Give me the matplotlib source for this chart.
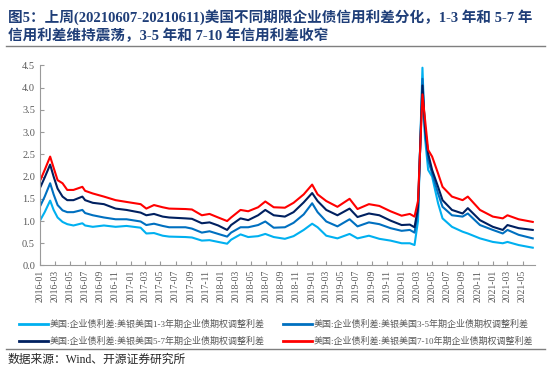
import pandas as pd
import matplotlib
matplotlib.use("Agg")
import matplotlib.pyplot as plt
import matplotlib.dates as mdates
from matplotlib.lines import Line2D

plt.rcParams['font.family'] = ['Liberation Serif', 'Noto Sans CJK SC', 'DejaVu Sans']

dates = ["2016-01-04", "2016-01-20", "2016-02-11", "2016-02-25", "2016-03-12",
         "2016-04-01", "2016-04-20", "2016-05-15", "2016-06-20", "2016-07-01",
         "2016-08-01", "2016-09-15", "2016-11-01", "2016-12-15", "2017-02-10",
         "2017-03-05", "2017-04-05", "2017-05-10", "2017-06-05", "2017-08-10",
         "2017-09-05", "2017-10-15", "2017-11-15", "2017-12-20", "2018-01-25",
         "2018-02-10", "2018-03-20", "2018-04-20", "2018-05-30", "2018-06-28",
         "2018-08-01", "2018-09-15", "2018-10-20", "2018-11-30", "2019-01-03",
         "2019-01-25", "2019-03-01", "2019-04-15", "2019-06-03", "2019-07-05",
         "2019-08-20", "2019-10-01", "2019-11-15", "2019-12-30", "2020-02-01",
         "2020-02-20", "2020-03-05", "2020-03-23", "2020-04-02", "2020-04-15",
         "2020-05-01", "2020-05-25", "2020-06-12", "2020-07-20", "2020-09-01",
         "2020-09-22", "2020-11-10", "2021-01-01", "2021-02-10", "2021-03-01",
         "2021-04-15", "2021-06-11"]

oas_1_3 = [1.04, 1.20, 1.46, 1.25, 1.08, 0.98, 0.93, 0.90, 0.95, 0.90,
           0.87, 0.90, 0.87, 0.89, 0.85, 0.72, 0.73, 0.67, 0.65, 0.64,
           0.63, 0.56, 0.57, 0.53, 0.49, 0.58, 0.70, 0.64, 0.66, 0.71,
           0.64, 0.60, 0.66, 0.80, 0.94, 0.86, 0.67, 0.61, 0.71, 0.61,
           0.67, 0.60, 0.56, 0.50, 0.50, 0.46, 1.00, 4.45, 2.89, 2.15,
           2.00, 1.40, 1.06, 0.87, 0.76, 0.72, 0.61, 0.53, 0.50, 0.53,
           0.46, 0.40]

oas_3_5 = [1.36, 1.55, 1.85, 1.60, 1.36, 1.24, 1.20, 1.20, 1.25, 1.18,
           1.13, 1.08, 1.04, 1.04, 0.99, 0.91, 0.94, 0.89, 0.86, 0.86,
           0.83, 0.74, 0.77, 0.71, 0.65, 0.74, 0.86, 0.86, 0.91, 0.99,
           0.85, 0.86, 0.96, 1.15, 1.40, 1.20, 0.99, 0.88, 1.04, 0.88,
           0.97, 0.93, 0.84, 0.78, 0.80, 0.74, 1.20, 4.20, 3.01, 2.37,
           2.07, 1.62, 1.32, 1.13, 1.10, 1.17, 0.91, 0.80, 0.72, 0.80,
           0.69, 0.61]

oas_5_7 = [1.78, 1.98, 2.27, 2.00, 1.73, 1.55, 1.47, 1.47, 1.55, 1.47,
           1.41, 1.38, 1.28, 1.25, 1.19, 1.13, 1.16, 1.10, 1.08, 1.06,
           1.05, 0.95, 0.97, 0.90, 0.80, 0.91, 1.06, 1.02, 1.13, 1.25,
           1.13, 1.10, 1.20, 1.42, 1.63, 1.45, 1.25, 1.13, 1.28, 1.09,
           1.17, 1.13, 1.01, 0.91, 0.92, 0.86, 1.30, 4.05, 3.12, 2.52,
           2.15, 1.77, 1.47, 1.25, 1.17, 1.29, 1.02, 0.87, 0.80, 0.91,
           0.84, 0.80]

oas_7_10 = [1.94, 2.15, 2.45, 2.20, 1.92, 1.85, 1.70, 1.70, 1.77, 1.68,
            1.62, 1.55, 1.47, 1.43, 1.38, 1.28, 1.36, 1.31, 1.28, 1.27,
            1.26, 1.13, 1.16, 1.08, 1.00, 1.08, 1.25, 1.22, 1.31, 1.44,
            1.31, 1.30, 1.41, 1.60, 1.82, 1.60, 1.45, 1.32, 1.50, 1.27,
            1.38, 1.34, 1.22, 1.12, 1.16, 1.10, 1.45, 3.85, 3.31, 2.60,
            2.45, 2.07, 1.77, 1.55, 1.47, 1.55, 1.25, 1.10, 1.06, 1.13,
            1.04, 0.98]

labels = ["美国:企业债利差:美银美国1-3年期企业债期权调整利差",
          "美国:企业债利差:美银美国3-5年期企业债期权调整利差",
          "美国:企业债利差:美银美国5-7年期企业债期权调整利差",
          "美国:企业债利差:美银美国7-10年期企业债期权调整利差"]
colors = ["#00B0F0", "#0070C0", "#002060", "#FF0000"]

x = pd.to_datetime(dates)

fig = plt.figure(figsize=(5.5, 3.71), dpi=100)
ax = fig.add_axes([0.0727, 0.2844, 0.9, 0.5391])

series = [oas_1_3, oas_3_5, oas_5_7, oas_7_10]
for vals, c in zip(series, colors):
    ax.plot(x, vals, color=c, lw=1.5)

ax.set_ylim(0, 4.5)
ax.set_yticks([i * 0.5 for i in range(10)])
ax.yaxis.set_major_formatter(matplotlib.ticker.FormatStrFormatter('%.1f'))
ax.set_xlim(pd.Timestamp("2016-01-01"), pd.Timestamp("2021-06-20"))
ax.xaxis.set_major_locator(mdates.MonthLocator(bymonth=[1, 3, 5, 7, 9, 11]))
ax.xaxis.set_major_formatter(mdates.DateFormatter("%Y-%m"))
for lab in ax.get_xticklabels():
    lab.set_rotation(90)

for s in ["top", "right"]:
    ax.spines[s].set_visible(False)
for s in ["left", "bottom"]:
    ax.spines[s].set_color("#9A9A9A")
ax.tick_params(axis="both", direction="in", length=3, color="#9A9A9A",
               labelcolor="#595959", labelsize=7.5)
ax.tick_params(axis="x", labelsize=7, pad=3)

handles = [Line2D([], [], color=colors[i], lw=2) for i in [0, 2, 1, 3]]
hl = [labels[i] for i in [0, 2, 1, 3]]
fig.legend(handles, hl, ncol=2, loc="upper left", bbox_to_anchor=(0.028, 0.148),
           frameon=False, fontsize=6.5, handlelength=3.2, handletextpad=0.2,
           columnspacing=2.0, labelspacing=0.9, labelcolor="#595959",
           borderaxespad=0)

title_color = "#1F3E78"
fig.text(0.014, 0.955, "图5：上周(20210607-20210611)美国不同期限企业债信用利差分化，1-3 年和 5-7 年",
         fontsize=10.5, fontweight="bold", color=title_color, va="center")
fig.text(0.014, 0.903, "信用利差维持震荡，3-5 年和 7-10 年信用利差收窄",
         fontsize=10.5, fontweight="bold", color=title_color, va="center")
fig.add_artist(Line2D([0.01, 0.99], [0.875, 0.875], color="#7F7F7F", lw=1))
fig.add_artist(Line2D([0.01, 0.99], [0.06, 0.06], color="#7F7F7F", lw=1))
fig.text(0.014, 0.03, "数据来源：Wind、开源证券研究所", fontsize=8.5,
         color="#262626", va="center")

fig.savefig("out.png", dpi=100)
